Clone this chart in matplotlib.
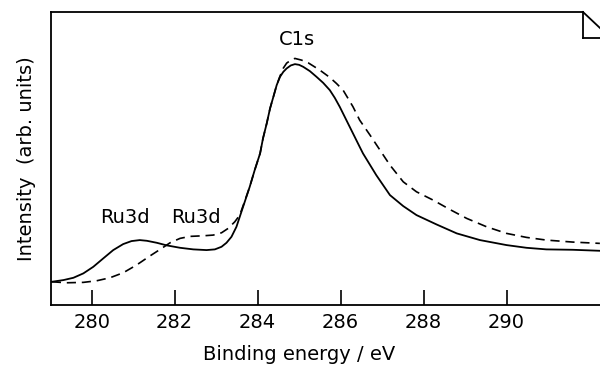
import matplotlib.pyplot as plt
from matplotlib.lines import Line2D

plt.rcParams['font.family'] = ['DejaVu Sans']

# binding energy (eV) and intensity (arb. units)
e_solid = [279.04, 279.32, 279.56, 279.80, 280.04, 280.28, 280.52, 280.76, 280.96,
           281.16, 281.33, 281.57, 281.81, 282.13, 282.45, 282.77, 282.97, 283.13,
           283.25, 283.37, 283.49, 283.57, 283.69, 283.81, 283.93, 284.06, 284.13,
           284.22, 284.30, 284.38, 284.46, 284.54, 284.62, 284.70, 284.80, 284.90,
           285.00, 285.10, 285.26, 285.42, 285.58, 285.74, 285.86, 285.98, 286.10,
           286.22, 286.34, 286.46, 286.54, 286.86, 287.19, 287.51, 287.83, 288.31,
           288.80, 289.36, 290.00, 290.48, 290.96, 291.60, 292.25]
i_solid = [0.233, 0.250, 0.273, 0.317, 0.383, 0.467, 0.550, 0.610, 0.640,
           0.650, 0.643, 0.623, 0.597, 0.573, 0.557, 0.550, 0.557, 0.583,
           0.623, 0.683, 0.783, 0.883, 1.033, 1.183, 1.350, 1.517, 1.667,
           1.817, 1.967, 2.083, 2.200, 2.283, 2.333, 2.367, 2.397, 2.410,
           2.403, 2.383, 2.340, 2.283, 2.223, 2.150, 2.073, 1.983, 1.883,
           1.783, 1.683, 1.583, 1.517, 1.300, 1.100, 0.990, 0.900, 0.807,
           0.717, 0.650, 0.600, 0.573, 0.557, 0.553, 0.543]

e_dash = [279.04, 279.40, 279.80, 280.12, 280.44, 280.76, 281.08, 281.40, 281.65,
          281.89, 282.13, 282.37, 282.69, 282.93, 283.13, 283.29, 283.45, 283.57,
          283.69, 283.81, 283.93, 284.06, 284.13, 284.22, 284.30, 284.38, 284.46,
          284.54, 284.62, 284.70, 284.82, 284.90, 285.06, 285.22, 285.50, 285.74,
          285.90, 286.06, 286.18, 286.30, 286.46, 286.71, 286.95, 287.19, 287.51,
          287.83, 288.23, 288.63, 289.04, 289.52, 290.00, 290.48, 290.96, 291.60,
          292.25]
i_dash = [0.233, 0.223, 0.227, 0.243, 0.273, 0.323, 0.400, 0.490, 0.557,
          0.623, 0.667, 0.687, 0.693, 0.700, 0.723, 0.767, 0.833, 0.900,
          1.040, 1.183, 1.350, 1.517, 1.667, 1.817, 1.967, 2.083, 2.200,
          2.290, 2.370, 2.420, 2.455, 2.467, 2.450, 2.423, 2.350, 2.277,
          2.217, 2.150, 2.067, 1.983, 1.850, 1.700, 1.550, 1.400, 1.233,
          1.133, 1.050, 0.957, 0.867, 0.783, 0.717, 0.677, 0.650, 0.630,
          0.617]

peaks = ["Ru3d", "Ru3d", "C1s"]
peak_pos = [(280.8, 0.82), (282.51, 0.82), (284.95, 2.60)]

fig = plt.figure(figsize=(6, 3.68), dpi=100)
ax = fig.add_axes([0.085, 0.171, 0.93, 0.796])

ax.plot(e_solid, i_solid, color='black', lw=1.3)
ax.plot(e_dash, i_dash, color='black', lw=1.2, linestyle=(0, (5.5, 3.5)))

for name, (x, y) in zip(peaks, peak_pos):
    ax.text(x, y, name, ha='center', va='baseline', fontsize=14)

ax.set_xlim(279.02, 292.47)
ax.set_ylim(0, 2.93)
ax.set_xticks([280, 282, 284, 286, 288, 290])
ax.set_yticks([])
ax.tick_params(axis='x', direction='in', length=11, width=1.2, pad=6, labelsize=14)
for s in ['left', 'bottom']:
    ax.spines[s].set_linewidth(1.3)
ax.spines['right'].set_visible(False)
ax.spines['top'].set_visible(False)

ax.set_xlabel('Binding energy / eV', fontsize=14, x=0.445, labelpad=9)
ax.set_ylabel('Intensity  (arb. units)', fontsize=14, labelpad=11)

# top border with the folded corner
W, H = 600.0, 368.0
def fl(xs, ys):
    fig.add_artist(Line2D([x / W for x in xs], [1 - y / H for y in ys],
                          color='black', lw=1.3, transform=fig.transFigure))
fl([51, 583], [12, 12])
fl([583, 600], [12, 28])
fl([583, 583], [12, 38])
fl([583, 600], [38, 38])

fig.savefig('out.png', dpi=100)
